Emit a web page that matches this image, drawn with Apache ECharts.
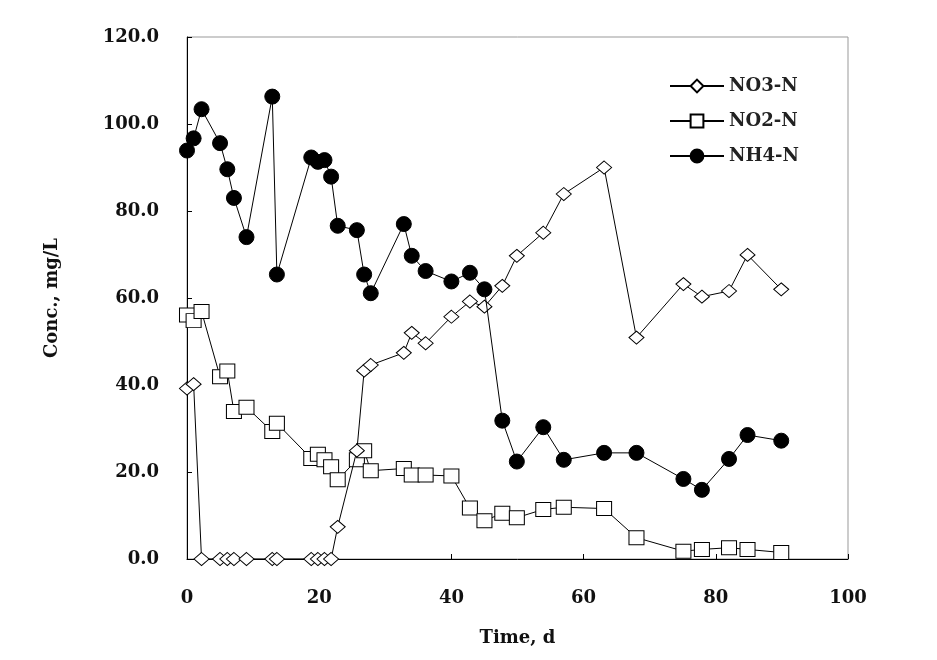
<!DOCTYPE html>
<html>
<head>
<meta charset="utf-8">
<script src="https://cdn.jsdelivr.net/npm/echarts@6/dist/echarts.min.js"></script>
<style>
html,body{margin:0;padding:0;background:#fff;}
#chart{width:937px;height:660px;}
</style>
</head>
<body>
<div id="chart"></div>
<script>
// Time, d
var days = [0, 1, 2.2, 5, 6.1, 7.1, 9, 12.9, 13.6, 18.8, 19.8, 20.8, 21.8, 22.8, 25.7, 26.8, 27.8, 32.8, 34, 36.1, 40, 42.8, 45, 47.7, 49.9, 53.9, 57, 63.1, 68, 75.1, 77.9, 82, 84.8, 89.9];
var no3 = [39.2, 40.2, 0, 0, 0, 0, 0, 0, 0, 0, 0, 0, 0, 7.4, 24.9, 43.3, 44.6, 47.4, 52.0, 49.6, 55.7, 59.2, 58.0, 62.8, 69.7, 75.0, 83.9, 90.0, 50.9, 63.2, 60.3, 61.6, 69.9, 62.0];
var no2 = [56.1, 54.8, 56.9, 41.9, 43.2, 33.9, 34.9, 29.3, 31.2, 23.1, 24.1, 22.8, 21.2, 18.2, 22.8, 24.9, 20.3, 20.8, 19.3, 19.3, 19.1, 11.7, 8.8, 10.5, 9.5, 11.4, 11.9, 11.6, 4.9, 1.8, 2.2, 2.6, 2.2, 1.5];
var nh4 = [93.9, 96.7, 103.4, 95.6, 89.6, 83.0, 74.0, 106.3, 65.4, 92.3, 91.3, 91.7, 87.9, 76.6, 75.6, 65.4, 61.1, 77.0, 69.7, 66.2, 63.8, 65.8, 62.0, 31.8, 22.4, 30.3, 22.8, 24.4, 24.4, 18.4, 15.9, 23.0, 28.5, 27.2];
var seriesNames = ['NO3-N', 'NO2-N', 'NH4-N'];
var xTitle = 'Time, d';
var yTitle = 'Conc., mg/L';

function pairs(v) { return days.map(function (d, i) { return [d, v[i]]; }); }

var FONT = 'DejaVu Serif';
var chart = echarts.init(document.getElementById('chart'), null, {renderer: 'canvas'});
chart.setOption({
  backgroundColor: '#fff',
  animation: false,
  grid: {left: 187, right: 89, top: 37, bottom: 101, show: true, borderColor: '#999', borderWidth: 1, backgroundColor: 'transparent'},
  legend: {
    orient: 'vertical', left: 664, top: 72, itemWidth: 54, itemHeight: 16, itemGap: 17,
    textStyle: {fontFamily: FONT, fontWeight: 'bold', fontSize: 18, color: '#222', lineHeight: 18},
    data: seriesNames
  },
  xAxis: {
    type: 'value', min: 0, max: 100, interval: 20,
    name: xTitle, nameLocation: 'middle', nameGap: 70,
    nameTextStyle: {fontFamily: FONT, fontWeight: 'bold', fontSize: 18, color: '#111'},
    axisLine: {lineStyle: {color: '#000', width: 1}},
    axisTick: {inside: true, length: 5, lineStyle: {color: '#000'}},
    axisLabel: {fontFamily: FONT, fontWeight: 'bold', fontSize: 18, color: '#111', margin: 30},
    splitLine: {show: false}
  },
  yAxis: {
    type: 'value', min: 0, max: 120, interval: 20,
    name: yTitle, nameLocation: 'middle', nameGap: 126, nameRotate: 90,
    nameTextStyle: {fontFamily: FONT, fontWeight: 'bold', fontSize: 18, color: '#111'},
    axisLine: {show: true, lineStyle: {color: '#000', width: 1}},
    axisTick: {show: true, inside: true, length: 5, lineStyle: {color: '#000'}},
    axisLabel: {fontFamily: FONT, fontWeight: 'bold', fontSize: 18, color: '#111', margin: 28,
      formatter: function (v) { return v.toFixed(1); }},
    splitLine: {show: false}
  },
  series: [
    {name: seriesNames[0], type: 'line', data: pairs(no3), symbol: 'diamond', symbolSize: [15, 13],
      lineStyle: {color: '#000', width: 1}, itemStyle: {color: '#fff', borderColor: '#000', borderWidth: 1}, z: 3},
    {name: seriesNames[1], type: 'line', data: pairs(no2), symbol: 'rect', symbolSize: [15, 14],
      lineStyle: {color: '#000', width: 1}, itemStyle: {color: '#fff', borderColor: '#000', borderWidth: 1}, z: 2},
    {name: seriesNames[2], type: 'line', data: pairs(nh4), symbol: 'circle', symbolSize: 15,
      lineStyle: {color: '#000', width: 1}, itemStyle: {color: '#000', borderColor: '#000', borderWidth: 1}, z: 4}
  ]
});
</script>
</body>
</html>
